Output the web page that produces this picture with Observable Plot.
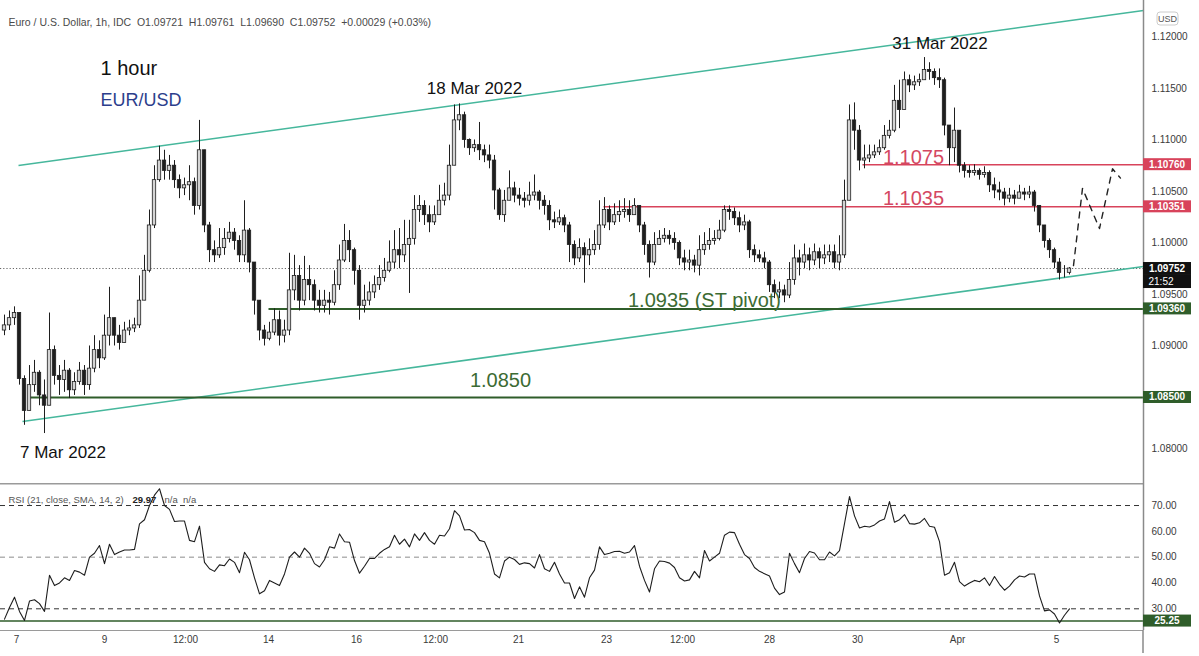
<!DOCTYPE html>
<html>
<head>
<meta charset="utf-8">
<script src="https://cdn.jsdelivr.net/npm/d3@7"></script>
<script src="https://cdn.jsdelivr.net/npm/@observablehq/plot@0.6"></script>
<style>
  body { margin: 0; background: #fff; }
  #chart { width: 1199px; }
  #chart svg { display: block; }
</style>
</head>
<body>
<div id="chart"></div>
<script>
// hourly EUR/USD, sampled every few bars (index = bar number)
const firstOpen = 1.0915;
const closes = [1.0920,1.0927,1.0932,1.0868,1.0837,1.0862,1.0874,1.0852,1.0842,1.0896,
1.0871,1.0867,1.0876,1.0857,1.0865,1.0876,1.0862,1.0878,1.0896,1.0888,
1.0910,1.0927,1.0910,1.0903,1.0915,1.0917,1.0920,1.0944,1.0973,1.1017,
1.1061,1.1080,1.1070,1.1075,1.1061,1.1053,1.1056,1.1059,1.1036,1.1090,
1.1017,1.0993,1.0988,1.0995,1.1004,1.1010,1.1002,1.0988,1.1012,1.0981,
1.0944,1.0915,1.0907,1.0913,1.0925,1.0910,1.0915,1.0954,1.0968,1.0944,
1.0964,1.0959,1.0944,1.0939,1.0944,1.0942,1.0959,1.0983,1.1002,1.0993,
1.0973,1.0939,1.0944,1.0952,1.0959,1.0966,1.0973,1.0981,1.0993,1.0988,
1.0998,1.1004,1.1032,1.1036,1.1027,1.1020,1.1027,1.1041,1.1046,1.1075,
1.1119,1.1124,1.1100,1.1092,1.1095,1.1090,1.1085,1.1080,1.1051,1.1027,
1.1041,1.1053,1.1046,1.1043,1.1041,1.1046,1.1049,1.1041,1.1036,1.1022,
1.1020,1.1024,1.1017,1.0998,1.0985,1.0995,1.0988,1.0993,1.0998,1.1017,
1.1032,1.1020,1.1027,1.1030,1.1032,1.1027,1.1036,1.1017,1.0998,1.0981,
1.0998,1.1004,1.1007,1.1004,1.1000,1.0985,1.0981,1.0983,1.0978,1.0993,
1.0998,1.1002,1.1004,1.1012,1.1032,1.1030,1.1024,1.1017,1.1020,1.0993,
1.0988,1.0985,1.0981,1.0959,1.0952,1.0954,1.0949,1.0964,1.0985,1.0981,
1.0988,1.0983,1.0991,1.0985,1.0988,1.0991,1.0981,1.0988,1.1041,1.1119,
1.1109,1.1080,1.1082,1.1085,1.1088,1.1092,1.1104,1.1109,1.1138,1.1129,
1.1158,1.1153,1.1156,1.1158,1.1168,1.1166,1.1160,1.1158,1.1114,1.1092,
1.1109,1.1075,1.1070,1.1068,1.1070,1.1066,1.1068,1.1056,1.1051,1.1049,
1.1043,1.1046,1.1043,1.1049,1.1047,1.1049,1.1036,1.1017,1.1002,1.0993,
1.0981,1.0971,1.0971,1.09752];
const highs = [1.0930,1.0934,1.0938,1.0927,1.0871,1.0881,1.0886,1.0876,1.0867,1.0932,
1.0900,1.0881,1.0886,1.0878,1.0874,1.0884,1.0881,1.0900,1.0910,1.0905,
1.0930,1.0957,1.0927,1.0920,1.0923,1.0925,1.0927,1.0968,1.0988,1.1032,
1.1075,1.1094,1.1090,1.1085,1.1080,1.1066,1.1063,1.1075,1.1063,1.1119,
1.1090,1.1020,1.1002,1.1014,1.1014,1.1020,1.1014,1.1007,1.1041,1.1014,
1.0981,1.0944,1.0920,1.0923,1.0936,1.0934,1.0925,1.0990,1.0988,1.0978,
1.0987,1.0978,1.0964,1.0954,1.0954,1.0952,1.0973,1.0998,1.1018,1.1012,
1.0995,1.0978,1.0959,1.0962,1.0968,1.0978,1.0985,1.1002,1.1012,1.1014,
1.1022,1.1022,1.1046,1.1046,1.1041,1.1036,1.1036,1.1056,1.1058,1.1095,
1.1134,1.1135,1.1127,1.1101,1.1100,1.1117,1.1095,1.1095,1.1085,1.1053,
1.1051,1.1070,1.1059,1.1053,1.1049,1.1059,1.1066,1.1051,1.1046,1.1041,
1.1030,1.1032,1.1027,1.1020,1.1002,1.1004,1.1000,1.1004,1.1012,1.1041,
1.1044,1.1036,1.1038,1.1041,1.1043,1.1041,1.1043,1.1036,1.1020,1.1002,
1.1010,1.1012,1.1014,1.1012,1.1010,1.1002,1.0993,1.0993,1.0988,1.1007,
1.1010,1.1014,1.1012,1.1022,1.1036,1.1036,1.1034,1.1030,1.1027,1.1022,
1.0998,1.0993,1.0991,1.0983,1.0964,1.0962,1.0959,1.0981,1.0998,1.0993,
1.0999,1.0995,1.0999,1.0995,1.0998,1.0998,1.0998,1.1007,1.1061,1.1134,
1.1136,1.1114,1.1095,1.1095,1.1095,1.1100,1.1114,1.1119,1.1153,1.1158,
1.1166,1.1163,1.1162,1.1164,1.1180,1.1175,1.1169,1.1169,1.1160,1.1114,
1.1131,1.1109,1.1078,1.1075,1.1076,1.1072,1.1074,1.1070,1.1063,1.1059,
1.1053,1.1053,1.1051,1.1056,1.1053,1.1055,1.1051,1.1036,1.1017,1.1004,
1.0995,1.0985,1.0978,1.09761];
const lows = [1.0910,1.0915,1.0920,1.0862,1.0823,1.0837,1.0855,1.0842,1.0815,1.0852,
1.0862,1.0852,1.0855,1.0849,1.0852,1.0862,1.0852,1.0857,1.0874,1.0878,
1.0886,1.0900,1.0900,1.0896,1.0905,1.0910,1.0913,1.0917,1.0944,1.0971,
1.1014,1.1059,1.1061,1.1061,1.1053,1.1043,1.1046,1.1041,1.1027,1.1032,
1.1010,1.0981,1.0981,1.0985,1.0988,1.1000,1.0993,1.0981,1.0981,1.0971,
1.0930,1.0905,1.0900,1.0905,1.0910,1.0900,1.0903,1.0910,1.0944,1.0934,
1.0939,1.0944,1.0934,1.0932,1.0932,1.0930,1.0939,1.0954,1.0981,1.0981,
1.0959,1.0925,1.0932,1.0939,1.0946,1.0954,1.0962,1.0971,1.0975,1.0975,
1.0981,1.0951,1.0998,1.1020,1.1017,1.1010,1.1017,1.1027,1.1036,1.1041,
1.1075,1.1109,1.1092,1.1085,1.1088,1.1080,1.1078,1.1072,1.1032,1.1022,
1.1020,1.1041,1.1039,1.1036,1.1034,1.1036,1.1041,1.1032,1.1027,1.1012,
1.1014,1.1017,1.1010,1.0981,1.0978,1.0981,1.0961,1.0978,1.0988,1.0993,
1.1014,1.1012,1.1017,1.1020,1.1024,1.1020,1.1027,1.1010,1.0988,1.0966,
1.0978,1.0998,1.1000,1.0998,1.0993,1.0978,1.0973,1.0973,1.0971,1.0968,
1.0988,1.0993,1.0998,1.1002,1.1010,1.1022,1.1017,1.1010,1.1012,1.0985,
1.0981,1.0981,1.0975,1.0952,1.0946,1.0946,1.0942,1.0946,1.0959,1.0968,
1.0975,1.0973,1.0978,1.0975,1.0979,1.0981,1.0975,1.0973,1.0985,1.1041,
1.1090,1.1070,1.1072,1.1078,1.1082,1.1085,1.1090,1.1101,1.1107,1.1111,
1.1143,1.1146,1.1148,1.1152,1.1158,1.1158,1.1153,1.1150,1.1104,1.1075,
1.1078,1.1068,1.1063,1.1063,1.1065,1.1061,1.1063,1.1049,1.1043,1.1041,
1.1036,1.1039,1.1037,1.1043,1.1041,1.1043,1.1030,1.1010,1.0995,1.0985,
1.0975,1.0964,1.0966,1.0969];
const rsi = [26,30.5,34.5,29,25.5,33,33.5,32,29,43,
39,40,42,41,44.8,44.2,43,50,51.5,54.5,
47.5,55,51,52,52.8,52.8,53,62.9,64.5,70,
74,76.5,70,68.5,63.8,64,64,56.5,56,62,
48,45.5,44.5,47,46.7,49.3,48,44,51.9,49,
42,35.8,37,41,40,39,43.5,50,52,50,
53.5,51.5,47.5,46.2,49,54,53.5,59,56,55.8,
48.7,43.8,46.5,49.5,49.5,51.5,53,54,58.5,55,
57,54,59,56.5,59.5,56.5,55,58.5,58.2,61,
68,66,60.5,60.7,59.5,56.5,56,51.5,43.5,42,
48.5,50,49.1,47.2,47.8,47.5,45.8,51,45.5,44.5,
48,43.5,40,40,34,38.5,34.5,42,45,54,
51,51.5,52.2,52.3,51.5,52,54.5,46.5,41,36.5,
45.5,48.5,48.3,47.7,46,42,40.8,41.2,44.5,42,
52.6,48.5,50,51.5,58.5,59.7,59.5,55,51,49.5,
46,44.5,43.6,42.7,38,35.5,36.5,51.5,47.5,44,
49.5,52.2,51.6,49,49,52,50.5,52.5,63,73.5,
66,61.3,62,61.7,62.5,64,64.8,71.5,63.5,64.5,
66.5,63,62.8,63.3,65,62,61.6,56,43,44,
48,40.5,38.8,40,41,40.5,42,39,42.5,39.5,
37.2,38.8,41.2,42.7,42.3,43.5,43.5,35,29.2,29.6,
28,24.5,27.5,29.97];

// time axis labels (bar index where each label sits)
const tickBars = [2.4, 20, 36.2, 52.8, 70.4, 86.2, 102.8, 120.4, 135.6, 153, 170.6, 190.6, 210.4];
const tickLabels = ["7", "9", "12:00", "14", "16", "12:00", "21", "23", "12:00", "28", "30", "Apr", "5"];
// 1.085 is shown by its badge instead of a plain tick label
const priceTicks = [1.08, 1.09, 1.095, 1.10, 1.105, 1.11, 1.115, 1.12];
const rsiTicks = [30, 40, 50, 60, 70];

// drawings
const channels = [
  {i1: 2.8, p1: 1.10752, i2: 227.8, p2: 1.12257},
  {i1: 3.6, p1: 1.08267, i2: 227.8, p2: 1.09772}
];
const levels = [
  {price: 1.0936, from: 52.8, kind: "support"},
  {price: 1.0850, from: 4.8, kind: "support"},
  {price: 1.10351, from: 119.8, kind: "resistance"},
  {price: 1.1076, from: 171.6, kind: "resistance"}
];
const projection = [
  {i: 213.8, p: 1.0978}, {i: 215.6, p: 1.1053}, {i: 219, p: 1.1014},
  {i: 221.6, p: 1.1072}, {i: 223.2, p: 1.1063}
];
const dateNotes = [
  {text: "7 Mar 2022", i: 11.7, p: 1.07966},
  {text: "18 Mar 2022", i: 94, p: 1.1150},
  {text: "31 Mar 2022", i: 187.1, p: 1.11934}
];
const levelNotes = [
  {text: "1.0935 (ST pivot)", i: 140, p: 1.09442, kind: "support"},
  {text: "1.0850", i: 99.2, p: 1.08665, kind: "support"},
  {text: "1.1075", i: 181.8, p: 1.10833, kind: "resistance"},
  {text: "1.1035", i: 181.8, p: 1.10429, kind: "resistance"}
];
const priceBadges = [
  {p: 1.1076, label: "1.10760", kind: "resistance"},
  {p: 1.10351, label: "1.10351", kind: "resistance"},
  {p: 1.09752, label: "1.09752", sub: "21:52", kind: "last"},
  {p: 1.0936, label: "1.09360", kind: "support"},
  {p: 1.0850, label: "1.08500", kind: "support"}
];
const rsiLevel = 25.25;
const header = "Euro / U.S. Dollar, 1h, IDC  O1.09721  H1.09761  L1.09690  C1.09752  +0.00029 (+0.03%)";
const rsiName = "RSI (21, close, SMA, 14, 2)";
const rsiValue = "29.97";
const rsiRest = "n/a  n/a";

const colors = {support: "#2f5d2a", resistance: "#d8435b", last: "#111111"};
const noteColors = {support: "#3c6b33", resistance: "#d44862"};
const channelColor = "#46b79c";
const font = "'Liberation Sans', Arial, sans-serif";

const xDomain = [-0.8, 227.8];
const lastClose = closes[closes.length - 1];

const bars = closes.map((c, i) => {
  const open = i ? closes[i - 1] : firstOpen;
  return {
    i, open, close: c,
    high: Math.max(highs[i], open, c),
    low: Math.min(lows[i], open, c)
  };
});

const price = Plot.plot({
  width: 1199, height: 483,
  marginLeft: 0, marginRight: 56, marginTop: 0, marginBottom: 0,
  style: {fontFamily: font, fontSize: "10px", color: "#3a3a3a", background: "#fff"},
  x: {domain: xDomain, axis: null},
  y: {domain: [1.07665, 1.12354], axis: "right", ticks: priceTicks, tickFormat: d3.format(".5f"),
      tickSize: 0, tickPadding: 8, label: null},
  marks: [
    Plot.ruleY([lastClose], {stroke: "#666", strokeDasharray: "1.2,2"}),
    Plot.link(channels, {x1: "i1", y1: "p1", x2: "i2", y2: "p2", stroke: channelColor, strokeWidth: 1.6}),
    Plot.link(levels, {x1: "from", x2: () => xDomain[1], y1: "price", y2: "price",
      stroke: d => colors[d.kind], strokeWidth: d => d.kind === "support" ? 2 : 1.4}),
    Plot.ruleX(bars, {x: "i", y1: "low", y2: "high", stroke: "#1e1e1e", strokeWidth: 1}),
    Plot.rect(bars, {x1: d => d.i - 0.34, x2: d => d.i + 0.34, y1: "open", y2: "close",
      fill: d => d.close >= d.open ? "#d4d4d4" : "#1e1e1e", stroke: "#1e1e1e", strokeWidth: 0.8}),
    Plot.line(projection, {x: "i", y: "p", stroke: "#222", strokeWidth: 1.4, strokeDasharray: "6,6"}),
    Plot.text(dateNotes, {x: "i", y: "p", text: "text", fill: "#111", fontSize: 17}),
    Plot.text(levelNotes, {x: "i", y: "p", text: "text", fill: d => noteColors[d.kind], fontSize: 20}),
    Plot.text([header], {frameAnchor: "top-left", dx: 8, dy: 18, textAnchor: "start", fontSize: 10.5, fill: "#4a4a4a"}),
    Plot.text(["1 hour"], {frameAnchor: "top-left", dx: 100, dy: 60, textAnchor: "start", fontSize: 20, fill: "#111"}),
    Plot.text(["EUR/USD"], {frameAnchor: "top-left", dx: 100, dy: 93, textAnchor: "start", fontSize: 18, fill: "#2c3e8c"}),
    Plot.ruleX([xDomain[1]], {stroke: "#8a8a8a", strokeWidth: 1.5})
  ]
});

const rsiPlot = Plot.plot({
  width: 1199, height: 173,
  marginLeft: 0, marginRight: 56, marginTop: 0, marginBottom: 26,
  style: {fontFamily: font, fontSize: "10px", color: "#3a3a3a", background: "#fff"},
  x: {domain: xDomain, axis: "bottom", ticks: tickBars, tickFormat: d => tickLabels[tickBars.indexOf(d)],
      tickSize: 0, tickPadding: 5, label: null},
  y: {domain: [21.6, 78.53], axis: "right", ticks: rsiTicks, tickFormat: d => d.toFixed(2),
      tickSize: 0, tickPadding: 8, label: null},
  marks: [
    Plot.ruleY([70, 30], {stroke: "#333", strokeDasharray: "5,4"}),
    Plot.ruleY([50], {stroke: "#8c8c8c", strokeDasharray: "5,4"}),
    Plot.ruleY([rsiLevel], {stroke: colors.support, strokeWidth: 1.5}),
    Plot.line(rsi, {x: (d, i) => i, y: d => d, stroke: "#1e1e1e", strokeWidth: 1.1}),
    Plot.text([rsiName], {frameAnchor: "top-left", dx: 8, dy: 13, textAnchor: "start", fontSize: 9.5, fill: "#555"}),
    Plot.text([rsiValue], {frameAnchor: "top-left", dx: 132, dy: 13, textAnchor: "start", fontSize: 9.5, fill: "#222", fontWeight: "bold"}),
    Plot.text([rsiRest], {frameAnchor: "top-left", dx: 164, dy: 13, textAnchor: "start", fontSize: 9.5, fill: "#555"}),
    Plot.ruleY([78.53], {stroke: "#9a9a9a", strokeWidth: 2}),
    Plot.ruleY([21.6], {stroke: "#9a9a9a", strokeWidth: 1.2}),
    Plot.ruleX([xDomain[1]], {stroke: "#8a8a8a", strokeWidth: 1.5})
  ]
});

// value badges on the price scale
function addBadges(svgNode, items) {
  const ys = svgNode.scale("y");
  const xs = svgNode.scale("x");
  const left = xs.apply(xDomain[1]);
  const svg = d3.select(svgNode);
  items.forEach(b => {
    const y = ys.apply(b.p);
    const g = svg.append("g");
    g.append("rect").attr("x", left).attr("y", y - 6).attr("width", 48).attr("height", 12)
      .attr("fill", colors[b.kind]);
    g.append("text").attr("x", left + 24).attr("y", y).attr("dy", "0.35em")
      .attr("text-anchor", "middle").attr("fill", "#fff").attr("font-size", 10).attr("font-weight", "bold")
      .attr("font-family", font).text(b.label);
    if (b.sub) {
      g.append("rect").attr("x", left).attr("y", y + 6).attr("width", 48).attr("height", 14)
        .attr("fill", colors[b.kind]);
      g.append("text").attr("x", left + 18).attr("y", y + 13).attr("dy", "0.35em")
        .attr("text-anchor", "middle").attr("fill", "#fff").attr("font-size", 10)
        .attr("font-family", font).text(b.sub);
    }
  });
  return left;
}

const axisLeft = addBadges(price, priceBadges);
addBadges(rsiPlot, [{p: rsiLevel, label: rsiLevel.toFixed(2), kind: "support"}]);

// currency tag at top of the price scale
const tag = d3.select(price);
tag.append("rect").attr("x", axisLeft + 14).attr("y", 12).attr("width", 21).attr("height", 13)
  .attr("rx", 3).attr("fill", "#fff").attr("stroke", "#ccc");
tag.append("text").attr("x", axisLeft + 24.5).attr("y", 18.5).attr("dy", "0.35em").attr("text-anchor", "middle")
  .attr("font-size", 9).attr("fill", "#555").attr("font-family", font).text("USD");

// axis line continues through the time labels
d3.select(rsiPlot).append("line").attr("x1", axisLeft).attr("x2", axisLeft)
  .attr("y1", 147).attr("y2", 170).attr("stroke", "#8a8a8a").attr("stroke-width", 1.5);

const chart = document.getElementById("chart");
chart.append(price);
chart.append(rsiPlot);
</script>
</body>
</html>
